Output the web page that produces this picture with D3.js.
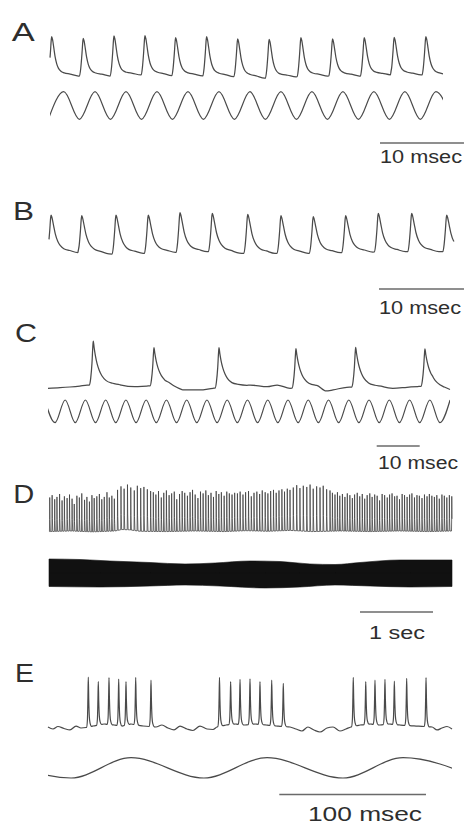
<!DOCTYPE html>
<html>
<head>
<meta charset="utf-8">
<script src="https://cdn.jsdelivr.net/npm/d3@7"></script>
<style>
  html, body { margin: 0; padding: 0; background: #fff; }
  svg { display: block; }
  text { font-family: "Liberation Sans", Arial, sans-serif; fill: #2e2e2e; }
</style>
</head>
<body>
<svg id="fig" width="464" height="825"></svg>
<script>
// ---------------------------------------------------------------------------
// Recordings (time in ms, or s for D; membrane potential in mV;
// stimulus in normalised units, +1 = crest, -1 = trough)
// ---------------------------------------------------------------------------

// A: one spike per stimulus cycle
const spikeTimesA = [0.2, 3.96, 7.62, 11.31, 14.96, 18.65, 22.35, 26.1, 29.88, 33.65, 37.42, 40.99, 44.76];
const spikePeaksA = [0.5, -2.2, 1.7, 2.2, -1.2, 0.5, -3.3, -3.8, -1.2, -3.3, -1.2, -0.5, 0.5];
const restA = [-65, -65, -65, -63.3, -64.5, -65, -66.2, -68.8, -66.2, -65, -65, -63.3, -63.3];
const restEndA = -65;
const stimCrestsA = [1.64, 5.36, 9.05, 12.74, 16.43, 20.12, 23.81, 27.5, 31.19, 34.88, 38.57, 42.26, 45.95];
const stimTroughsA = [-0.2, 3.5, 7.2, 10.9, 14.58, 18.27, 21.96, 25.65, 29.35, 33.04, 36.73, 40.42, 44.1, 47.8];

// B: regular firing without the stimulus trace
const spikeTimesB = [0.24, 3.85, 7.88, 11.68, 15.41, 19.21, 23.38, 27.29, 31.09, 34.9, 38.74, 42.67, 46.79];
const spikePeaksB = [-1.7, -2.8, -1.7, -1.7, 2.2, 1.2, -0.5, -2.8, -4.5, -2.8, 1.2, 1.2, -1.7];
const restB = [-65, -64.5, -66.7, -65.5, -63.8, -62.8, -65.5, -65.5, -65.5, -64.5, -63.3, -62.8, -62.8];
const restEndB = -62.8;

// C: spikes skip cycles of a faster stimulus
const spikeTimesC = [10.53, 24.65, 39.77, 57.67, 71.56, 87.67];
const spikePeaksC = [0, -9.5, -9.5, -10.9, -8.9, -11.3];
const restC = [[0, -66.8], [2.8, -66], [5.1, -65], [7.4, -63.6], [9.1, -62.2], [16.7, -62.2], [20.2, -64.6],
  [23, -63.6], [27.7, -62.5], [31.4, -69.2], [35.3, -69.2], [38.4, -66.8], [47, -62.2], [51, -64.6],
  [53.3, -62.2], [56.3, -66.8], [62.5, -64.6], [64.6, -70.6], [66.3, -69.2], [69.5, -65.4], [77.9, -64.6],
  [80.2, -66.8], [83.5, -65.4], [86, -64.3], [89.5, -63], [93.5, -69.2]];
const stimCrestsC = [-0.73, 3.99, 8.7, 13.41, 18.12, 22.83, 27.55, 32.26, 36.97, 41.68, 46.4, 51.11,
  55.82, 60.53, 65.25, 69.96, 74.67, 79.38, 84.1, 88.81, 93.52];
const stimTroughsC = [1.63, 6.34, 11.05, 15.76, 20.48, 25.19, 29.9, 34.61, 39.33, 44.04, 48.75, 53.46,
  58.18, 62.89, 67.6, 72.31, 77.03, 81.74, 86.45, 91.16];

// D: long recording (s); inter-spike intervals in ms
const spikeIsiD = [
  10, 33, 35, 31, 36, 34, 32, 37, 33, 35, 30, 36, 34, 33, 38, 32, 35, 34, 31, 36, 35, 33, 34, 37, 32, 35, 34,
  44, 47, 43, 46, 45, 48, 42, 46, 44, 47, 45,
  37, 35, 36, 38, 34, 36, 37, 35, 36, 34, 38, 36, 35, 37, 36, 34, 36, 38, 35, 36, 37, 35, 36, 34, 37, 36, 35, 38, 36, 35, 37, 36,
  38, 37, 39, 36, 40, 38, 37, 39, 38, 36, 40, 37, 38, 39, 37, 38, 40, 36, 38, 37,
  45, 47, 44, 46, 48, 45, 43, 47, 46, 44, 47, 46,
  33, 35, 34, 32, 36, 34, 33, 35, 34, 31, 36, 34, 35, 33, 34, 36, 32, 35, 34, 33,
  35, 34, 36, 32, 34, 35, 33, 34, 36, 33, 35, 34, 32, 35, 34, 33, 36, 34, 35, 32,
  34, 35, 33, 34, 36, 33, 34, 35, 33];
const spikePeaksD = [
  -3, 1, -6, -2, 3, -8, -1, -4, 2, -5, -14, 0, -3, 4, -7, -2, -10, 1, -4, -1, 3, -6, -2, 6, -3, 0, -5,
  10, 16, 12, 19, 14, 9, 17, 13, 15, 11, 8,
  6, 2, 8, -3, 5, 9, 1, 4, 7, -6, 3, 8, 5, 0, 6, 10, 2, -4, 7, 4, 9, 1, 5, -2, 8, 3, 6, 0, 7, 4, 2, 5,
  4, 7, 2, 6, 8, -1, 5, 7, 3, 9, 6, 4, 8, 10, 5, 9, 11, 7, 12, 10,
  14, 18, 13, 17, 15, 19, 12, 16, 14, 17, 11, 9,
  5, 2, 6, 0, 3, -2, 4, 1, -4, 2, 5, -1, 3, -5, 1, 4, -2, 2, 0, -8,
  3, 1, -3, 2, 4, -1, 0, -6, 3, 1, -2, 2, 4, -3, 1, 0, -4, 2, -1, 3,
  0, -2, 1, -5, 2, 0, -3, 1, -1];
const restD = [[0, -61], [0.3, -60], [0.6, -61.5], [0.9, -60], [1.0, -57.5], [1.1, -58], [1.25, -60.5],
  [1.6, -61], [2.0, -60], [2.4, -61], [2.7, -59.5], [3.0, -60.5], [3.3, -59], [3.6, -61], [4.0, -60],
  [4.4, -61], [4.8, -60], [5.2, -61], [5.52, -60]];
// envelope of the fast stimulus (upper and lower edge)
const stimEnvTopD = [[0, 1.0], [0.425, 0.964], [0.836, 0.857], [1.384, 0.75], [1.863, 0.643], [2.274, 0.714],
  [2.753, 0.857], [3.164, 0.821], [3.575, 0.643], [3.918, 0.607], [4.26, 0.75], [4.808, 0.929], [5.52, 0.929]];
const stimEnvBottomD = [[0, -0.964], [0.699, -1.0], [1.384, -0.929], [1.863, -0.857], [2.342, -0.929],
  [2.959, -1.071], [3.438, -1.0], [3.918, -0.857], [4.397, -0.929], [4.945, -1.0], [5.52, -0.964]];

// E: bursts on the rising phase of a slow stimulus
const spikeTimesE = [27.47, 34.29, 41.58, 48.19, 53.17, 59.78, 70.21,
  116.9, 124.5, 130.9, 137.7, 144.5, 152.5, 160.4,
  208.1, 216.6, 222.9, 229.7, 236.1, 244.5, 257.7];
const spikePeaksE = [10, 3.4, 9, 6.8, 3.1, 9.3, 5.6,
  9.6, 3.1, 6.6, 7.1, 3.1, 5.6, 0.7,
  9.6, 3.1, 5.6, 6.6, 4.1, 8.1, 9];
const restE = [[0, -63.5], [3.4, -66.5], [6.8, -62.8], [10.9, -65.7], [15, -67.9], [19.1, -62.1], [22.5, -65],
  [25.9, -64.3], [30.7, -62.1], [38.2, -59.1], [45, -60.6], [50.4, -62.1], [56.6, -59.1], [64.8, -62.1],
  [73.6, -63.5], [77.7, -60.6], [81.8, -65], [85.9, -67.9], [90, -62.1], [94.8, -66.5], [98.8, -68.7],
  [103.6, -62.1], [108.4, -66.5], [112.5, -67.2], [115.2, -63.5], [121.3, -60.6], [127.5, -59.1],
  [134.3, -60.6], [141.1, -59.1], [148.6, -60.6], [156.1, -62.1], [165, -63.5], [169, -66.5], [173.1, -69.4],
  [177.2, -63.5], [181.3, -67.9], [185.4, -70.9], [190.2, -65], [194.3, -63.5], [199, -69.4], [203.1, -66.5],
  [206.5, -63.5], [212.7, -60.6], [219.5, -59.1], [226.3, -60.6], [232.4, -59.1], [239.9, -60.6],
  [250.9, -62.1], [261.8, -63.5], [265.2, -67.9], [268.6, -65], [272, -62.8], [275.4, -66.5]];
const stimCrestsE = [-36.1, 56.6, 149.3, 242];
const stimTroughsE = [15.7, 106.3, 201.1, 292.4];

// Spike waveforms: [time from peak, fraction of spike height]
const waveA = [[-0.45, 0], [-0.3, 0.2], [-0.15, 0.6], [-0.05, 0.92], [0, 1], [0.1, 0.93], [0.25, 0.72],
  [0.4, 0.5], [0.6, 0.31], [0.8, 0.2], [1.1, 0.12], [1.5, 0.08], [2.2, 0.05], [3.2, 0]];
const waveB = [[-0.45, 0], [-0.3, 0.2], [-0.15, 0.6], [-0.05, 0.92], [0, 1], [0.1, 0.94], [0.3, 0.72],
  [0.5, 0.5], [0.8, 0.3], [1.1, 0.19], [1.5, 0.11], [2.2, 0.06], [3.2, 0]];
const waveC = [[-0.9, 0], [-0.6, 0.15], [-0.3, 0.5], [-0.1, 0.88], [0, 1], [0.2, 0.85], [0.5, 0.66],
  [0.9, 0.48], [1.4, 0.33], [2, 0.21], [3, 0.1], [4.5, 0.04], [6.5, 0]];
const waveD = [[-0.004, 0], [-0.0015, 0.35], [0, 1], [0.003, 0.35], [0.009, 0]];
const waveE = [[-1.2, 0], [-0.6, 0.15], [-0.25, 0.6], [0, 1], [0.3, 0.55], [0.7, 0.2], [1.2, 0.07], [2.2, 0]];

// Scale bars: length in each panel's time unit
const scaleBars = [
  { panel: "A", length: 10, label: "10 msec" },
  { panel: "B", length: 10, label: "10 msec" },
  { panel: "C", length: 10, label: "10 msec" },
  { panel: "D", length: 1, label: "1 sec" },
  { panel: "E", length: 100, label: "100 msec" }
];
const panelLetters = ["A", "B", "C", "D", "E"];

// ---------------------------------------------------------------------------
// Layout
// ---------------------------------------------------------------------------
const layout = {
  A: { T: 46.8, x: [50, 443], v: [-65, 0], y: [76, 37], s: [119.3, 91.7],
       letter: [11.7, 40.7, 23], bar: [380, 143], text: [380, 163, 82, 18] },
  B: { T: 47.65, x: [49, 454], v: [-65, 0], y: [253, 214],
       letter: [13, 220, 21], bar: [379, 289], text: [379, 313.5, 82, 18] },
  C: { T: 93.5, x: [48, 450], v: [-65, 0], y: [387, 341], s: [422.7, 400],
       letter: [15, 341.7, 22], bar: [376.7, 446], text: [378, 469, 80, 18] },
  D: { T: 5.52, x: [49, 452], v: [-60, 20], y: [531, 484], s: [587, 559],
       letter: [13.3, 503.3, 21], bar: [360, 612], text: [369, 639, 56, 18] },
  E: { T: 275.4, x: [48, 452], v: [-65, 10], y: [728, 677], s: [778, 757.7],
       letter: [15, 681.7, 19], bar: [279.3, 794.5], text: [308, 821, 114, 20] }
};

const svg = d3.select("#fig");
const defs = svg.append("defs");

// ---------------------------------------------------------------------------
// Helpers
// ---------------------------------------------------------------------------
function lerp(points, t) {
  if (t <= points[0][0]) return points[0][1];
  const last = points[points.length - 1];
  if (t >= last[0]) return last[1];
  const i = d3.bisector(p => p[0]).right(points, t);
  const a = points[i - 1], b = points[i];
  return a[1] + (b[1] - a[1]) * (t - a[0]) / (b[0] - a[0]);
}
function waveAt(wave, dt) {
  if (dt < wave[0][0] || dt > wave[wave.length - 1][0]) return 0;
  return lerp(wave, dt);
}
// membrane trace = resting level plus one waveform per spike
function buildTrace(T, rest, spikes, wave) {
  let ts = [0, T].concat(rest.map(p => p[0]));
  spikes.forEach(s => wave.forEach(w => ts.push(s.t + w[0])));
  ts = Array.from(new Set(ts.map(t => +t.toFixed(6)))).filter(t => t >= 0 && t <= T).sort((a, b) => a - b);
  return ts.map(t => {
    let v = lerp(rest, t);
    spikes.forEach(s => {
      const f = waveAt(wave, t - s.t);
      if (f) v += (s.peak - lerp(rest, s.t)) * f;
    });
    return [t, v];
  });
}
function stimPoints(crests, troughs) {
  return crests.map(t => [t, 1]).concat(troughs.map(t => [t, -1])).sort((a, b) => a[0] - b[0]);
}
function clipFor(key, L) {
  defs.append("clipPath").attr("id", "clip" + key)
    .append("rect").attr("x", L.x[0]).attr("y", 0).attr("width", L.x[1] - L.x[0]).attr("height", 825);
  return "url(#clip" + key + ")";
}

const traceColor = "#4a4a4a";
const scales = {};
Object.keys(layout).forEach(k => {
  const L = layout[k];
  scales[k] = {
    x: d3.scaleLinear().domain([0, L.T]).range(L.x),
    y: d3.scaleLinear().domain(L.v).range(L.y),
    s: L.s ? d3.scaleLinear().domain([-1, 1]).range(L.s) : null
  };
});

function drawTrace(key, data, curve, width, color) {
  const sc = scales[key];
  svg.append("path")
    .datum(data)
    .attr("fill", "none")
    .attr("stroke", color || traceColor)
    .attr("stroke-width", width || 1.25)
    .attr("stroke-linejoin", "round")
    .attr("d", d3.line().x(d => sc.x(d[0])).y(d => sc.y(d[1])).curve(curve)(data));
}
function drawStim(key, pts) {
  const sc = scales[key];
  svg.append("path")
    .attr("clip-path", clipFor(key, layout[key]))
    .attr("fill", "none")
    .attr("stroke", traceColor)
    .attr("stroke-width", 1.2)
    .attr("d", d3.line().x(d => sc.x(d[0])).y(d => sc.s(d[1])).curve(d3.curveMonotoneX)(pts));
}

// ---------------------------------------------------------------------------
// Panel A
// ---------------------------------------------------------------------------
{
  const spikes = spikeTimesA.map((t, i) => ({ t, peak: spikePeaksA[i] }));
  const rest = spikeTimesA.map((t, i) => [t - 0.45, restA[i]]).concat([[layout.A.T, restEndA]]);
  drawTrace("A", buildTrace(layout.A.T, rest, spikes, waveA), d3.curveMonotoneX);
  drawStim("A", stimPoints(stimCrestsA, stimTroughsA));
}
// Panel B
{
  const spikes = spikeTimesB.map((t, i) => ({ t, peak: spikePeaksB[i] }));
  const rest = spikeTimesB.map((t, i) => [t - 0.45, restB[i]]).concat([[layout.B.T, restEndB]]);
  drawTrace("B", buildTrace(layout.B.T, rest, spikes, waveB), d3.curveMonotoneX);
}
// Panel C
{
  const spikes = spikeTimesC.map((t, i) => ({ t, peak: spikePeaksC[i] }));
  drawTrace("C", buildTrace(layout.C.T, restC, spikes, waveC), d3.curveMonotoneX);
  drawStim("C", stimPoints(stimCrestsC, stimTroughsC));
}
// Panel D
{
  const times = d3.cumsum(spikeIsiD).map(ms => ms / 1000);
  const spikes = Array.from(times, (t, i) => ({ t, peak: spikePeaksD[i] }));
  drawTrace("D", buildTrace(layout.D.T, restD, spikes, waveD), d3.curveLinear, 0.75, "#3c3c3c");
  // the fast stimulus is drawn as its solid envelope
  const sc = scales.D;
  [stimEnvTopD, stimEnvBottomD].forEach(edge => {
    svg.append("path")
      .attr("fill", "#111")
      .attr("stroke", "#111")
      .attr("stroke-width", 0.6)
      .attr("d", d3.area().x(d => sc.x(d[0])).y0(sc.s(0)).y1(d => sc.s(d[1])).curve(d3.curveMonotoneX)(edge));
  });
}
// Panel E
{
  const spikes = spikeTimesE.map((t, i) => ({ t, peak: spikePeaksE[i] }));
  drawTrace("E", buildTrace(layout.E.T, restE, spikes, waveE), d3.curveMonotoneX, 1.2);
  drawStim("E", stimPoints(stimCrestsE, stimTroughsE));
}

// ---------------------------------------------------------------------------
// Scale bars and labels
// ---------------------------------------------------------------------------
scaleBars.forEach(b => {
  const L = layout[b.panel], sc = scales[b.panel];
  const len = sc.x(b.length) - sc.x(0);
  svg.append("line")
    .attr("x1", L.bar[0]).attr("x2", L.bar[0] + len)
    .attr("y1", L.bar[1]).attr("y2", L.bar[1])
    .attr("stroke", "#6a6a6a").attr("stroke-width", 1.5);
  svg.append("text")
    .attr("x", L.text[0]).attr("y", L.text[1])
    .attr("font-size", L.text[3])
    .attr("textLength", L.text[2])
    .attr("lengthAdjust", "spacingAndGlyphs")
    .text(b.label);
});

panelLetters.forEach(k => {
  const L = layout[k];
  svg.append("text")
    .attr("x", L.letter[0]).attr("y", L.letter[1])
    .attr("font-size", 25)
    .attr("textLength", L.letter[2])
    .attr("lengthAdjust", "spacingAndGlyphs")
    .text(k);
});
</script>
</body>
</html>
